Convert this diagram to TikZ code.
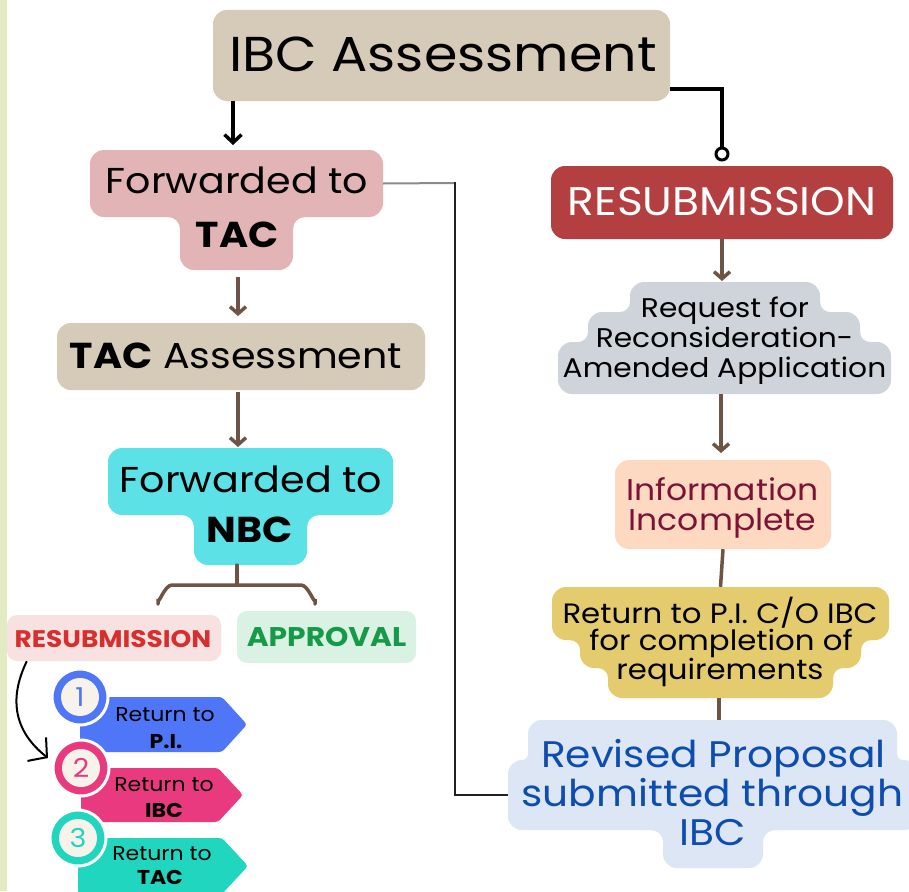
\documentclass[tikz,border=0pt]{standalone}
\usepackage{fontspec}
\setmainfont{Poppins}[FakeStretch=1.1]
\usetikzlibrary{arrows.meta,calc}
\definecolor{tanc}{HTML}{D6CAB9}
\definecolor{pinkc}{HTML}{E2B4B6}
\definecolor{cyanc}{HTML}{5CE1E6}
\definecolor{redc}{HTML}{B33F40}
\definecolor{grayc}{HTML}{CFD4DB}
\definecolor{peachc}{HTML}{FED9C1}
\definecolor{wine}{HTML}{7C1334}
\definecolor{yellc}{HTML}{E3CB6E}
\definecolor{lblue}{HTML}{DCE6F4}
\definecolor{dblue}{HTML}{0D4DB0}
\definecolor{brownc}{HTML}{6E5444}
\definecolor{lpink}{HTML}{F8E2E1}
\definecolor{lred}{HTML}{D6302E}
\definecolor{lgreen}{HTML}{D9F2E4}
\definecolor{dgreen}{HTML}{169A48}
\definecolor{tagblue}{HTML}{4E76F7}
\definecolor{tagpink}{HTML}{E93A80}
\definecolor{tagteal}{HTML}{21D6BE}
\definecolor{cream}{HTML}{F7F2EA}
\definecolor{stripc}{HTML}{E3EBC3}
\definecolor{linec}{HTML}{231F20}
\definecolor{lgray}{HTML}{8A8A8A}
\newcommand\fsz[1]{\fontsize{#1}{#1}\selectfont}
% concave fillet: corner x,y ; sx, sy directions ; radius ; colour
\newcommand\myfillet[6]{\fill[#6] ({#1+#3*#5},{#2}) -- (#1,#2) -- ({#1},{#2+#4*#5}) .. controls ({#1},{#2+#4*0.448*#5}) and ({#1+#3*0.448*#5},{#2}) .. ({#1+#3*#5},{#2}) -- cycle;}
\begin{document}
\begin{tikzpicture}[x=1pt,y=-1pt,
  blob/.style={fill=#1, rounded corners=14pt, inner sep=0pt, draw=none},
  txt/.style={anchor=base, inner sep=0pt},
  brarrow/.style={draw=brownc, line width=3.5pt, -{Straight Barb[length=7pt,width=16pt]}},
  brline/.style={draw=brownc, line width=3.5pt},
  blkarrow/.style={draw=black, line width=3.5pt, -{Straight Barb[length=8pt,width=17pt]}},
  tagcirc/.style={circle, fill=#1, draw=white, line width=3pt, minimum size=56pt, inner sep=0pt},
  innercirc/.style={circle, fill=cream, minimum size=38pt, inner sep=0pt}
]
\useasboundingbox (0,0) rectangle (909,891);
\fill[white] (0,0) rectangle (909,891);
\fill[stripc] (0,0) rectangle (7,891);

% IBC Assessment
\node[blob=tanc, minimum width=457pt, minimum height=91pt] (ibc) at (441.5,55.5) {};
\node[txt] (ibct) at (443,71) {\fsz{49}IBC Assessment};

% Forwarded to TAC
\node[blob=pinkc, minimum width=293pt, minimum height=67pt] (ftac) at (236.5,183.5) {};
\node[blob=pinkc, minimum width=113pt, minimum height=65pt] (ftacb) at (236.5,237.5) {};
\myfillet{180}{217}{-1}{1}{12}{pinkc}
\myfillet{293}{217}{1}{1}{12}{pinkc}
\node[txt] (ftact1) at (237,193) {\fsz{36}Forwarded to};
\node[txt] (ftact2) at (237,247) {\fsz{36}\bfseries TAC};

% TAC Assessment
\node[blob=tanc, minimum width=368pt, minimum height=67pt] (taca) at (241,356.5) {};
\node[txt] (tacat) at (236,368) {\fsz{36}{\bfseries TAC} Assessment};

% Forwarded to NBC
\node[blob=cyanc, minimum width=285pt, minimum height=67pt] (fnbc) at (250.5,481.5) {};
\node[blob=cyanc, minimum width=113pt, minimum height=65pt] (fnbcb) at (250.5,532.5) {};
\myfillet{194}{515}{-1}{1}{12}{cyanc}
\myfillet{307}{515}{1}{1}{12}{cyanc}
\node[txt] (fnbct1) at (251,492) {\fsz{36}Forwarded to};
\node[txt] (fnbct2) at (250,542) {\fsz{36}\bfseries NBC};

% left resubmission / approval
\node[blob=lpink, rounded corners=10pt, minimum width=214pt, minimum height=46pt] (resl) at (114,638) {};
\node[txt, text=lred] (reslt) at (113,647) {\fsz{24}\bfseries RESUBMISSION};
\node[blob=lgreen, rounded corners=10pt, minimum width=179pt, minimum height=52pt] (appr) at (326.5,637) {};
\node[txt, text=dgreen] (apprt) at (326.5,646) {\fsz{27}\bfseries APPROVAL};

% brace
\coordinate (bl) at (158,604);
\coordinate (br) at (315,604);
\draw[brline, line cap=round] (fnbcb.south -| 237,0) -- (237,585);
\draw[brline, line cap=round] (bl) -- (158,599) to[out=-90,in=180] (172,585) -- (301,585) to[out=0,in=-90] (315,599) -- (br);

% tags
\fill[tagblue, rounded corners=3pt] (80,697) -- (222,697) -- (247,724.5) -- (222,752) -- (80,752) -- cycle;
\fill[tagpink, rounded corners=3pt] (81,768) -- (218,768) -- (243,795) -- (218,822) -- (81,822) -- cycle;
\fill[tagteal, rounded corners=3pt] (78,838) -- (222,838) -- (248,866) -- (222,894) -- (78,894) -- cycle;
\node[tagcirc=tagblue] (c1) at (80,697) {};
\node[innercirc] (c1i) at (c1) {};
\node[tagcirc=tagpink] (c2) at (81,768) {};
\node[innercirc] (c2i) at (c2) {};
\node[tagcirc=tagteal] (c3) at (78,838) {};
\node[innercirc] (c3i) at (c3) {};
\node[txt, text=tagblue] (n1) at (80,706) {\fsz{26}1};
\node[txt, text=tagpink] (n2) at (81,777) {\fsz{26}2};
\node[txt, text=tagteal] (n3) at (78,847) {\fsz{26}3};
\node[txt] (t1a) at (165,721) {\fsz{20}Return to};
\node[txt] (t1b) at (166,748) {\fsz{20}\bfseries P.I.};
\node[txt] (t2a) at (164,791) {\fsz{20}Return to};
\node[txt] (t2b) at (164,817) {\fsz{20}\bfseries IBC};
\node[txt] (t3a) at (162,860) {\fsz{20}Return to};
\node[txt] (t3b) at (160,884) {\fsz{20}\bfseries TAC};

% curved arrow
\coordinate (cs) at ($(resl.south west)+(20,0)$);
\coordinate (ce) at (48,758);
\draw[black, line width=2pt, -{Straight Barb[length=13pt,width=30pt]}] (cs) .. controls (8,700) and (15,732) .. (ce);

% right column
\node[blob=redc, minimum width=342pt, minimum height=73pt] (resr) at (722,202.5) {};
\node[txt, text=white] (resrt) at (722,215) {\fsz{40}RESUBMISSION};

\node[blob=grayc, minimum width=190pt, minimum height=48pt] (req1) at (725,306) {};
\node[blob=grayc, minimum width=272pt, minimum height=48pt] (req2) at (724,336) {};
\node[blob=grayc, minimum width=333pt, minimum height=52pt] (req3) at (724.5,368) {};
\myfillet{630}{312}{-1}{-1}{10}{grayc}
\myfillet{820}{312}{1}{-1}{10}{grayc}
\myfillet{588}{342}{-1}{-1}{10}{grayc}
\myfillet{860}{342}{1}{-1}{10}{grayc}
\node[txt] (reqt1) at (725,317) {\fsz{27}Request for};
\node[txt] (reqt2) at (724.5,347) {\fsz{27}Reconsideration-};
\node[txt] (reqt3) at (724.5,377) {\fsz{27}Amended Application};

\node[blob=peachc, minimum width=216pt, minimum height=89pt] (info) at (723,504.5) {};
\node[txt, text=wine] (infot1) at (722.5,500) {\fsz{30}Information};
\node[txt, text=wine] (infot2) at (722.5,530) {\fsz{30}Incomplete};

\node[blob=yellc, minimum width=337pt, minimum height=53pt] (ret1) at (720.5,613.5) {};
\node[blob=yellc, minimum width=281pt, minimum height=58pt] (ret2) at (720.5,639) {};
\node[blob=yellc, minimum width=225pt, minimum height=58pt] (ret3) at (720.5,669) {};
\myfillet{580}{640}{-1}{1}{10}{yellc}
\myfillet{861}{640}{1}{1}{10}{yellc}
\myfillet{608}{668}{-1}{1}{10}{yellc}
\myfillet{833}{668}{1}{1}{10}{yellc}
\node[txt] (rett1) at (720,623) {\fsz{28}Return to P.I. C/O IBC};
\node[txt] (rett2) at (721,650) {\fsz{28}for completion of};
\node[txt] (rett3) at (720,679) {\fsz{28}requirements};

\node[blob=lblue, minimum width=369pt, minimum height=70pt] (rev1) at (712.5,755) {};
\node[blob=lblue, minimum width=410pt, minimum height=70pt] (rev2) at (713,795) {};
\node[blob=lblue, minimum width=100pt, minimum height=68pt] (rev3) at (713,834) {};
\myfillet{528}{760}{-1}{-1}{6}{lblue}
\myfillet{897}{760}{1}{-1}{6}{lblue}
\myfillet{663}{830}{-1}{1}{12}{lblue}
\myfillet{763}{830}{1}{1}{12}{lblue}
\node[txt, text=dblue] (revt1) at (713.5,767) {\fsz{37}Revised Proposal};
\node[txt, text=dblue] (revt2) at (712.5,806) {\fsz{37}submitted through};
\node[txt, text=dblue] (revt3) at (712.5,845) {\fsz{37}IBC};

% connectors
\draw[blkarrow] (233,101) -- (233,145);
\draw[brarrow] (238,277) -- (238,316);
\draw[brarrow] (238,392) -- (238,447);
\node[circle, draw=black, fill=white, line width=3pt, minimum size=12pt, inner sep=0pt] (endc) at (722,154) {};
\draw[black, line width=3.5pt] ($(ibc.south east)+(0,-12)$) -| (endc.north);
\draw[brarrow] (resr.south) -- (722,281);
\draw[brarrow] (721,394) -- (721,453);
\draw[brline] (info.south) -- (ret1.north);
\draw[brline] (719,698) -- (rev1.north -| 719,0);
\coordinate (k1) at (455,183);
\draw[lgray, line width=2pt] (ftac.east) -- (k1);
\draw[linec, line width=2pt] (455,182) |- (rev2.west);
\end{tikzpicture}
\end{document}
